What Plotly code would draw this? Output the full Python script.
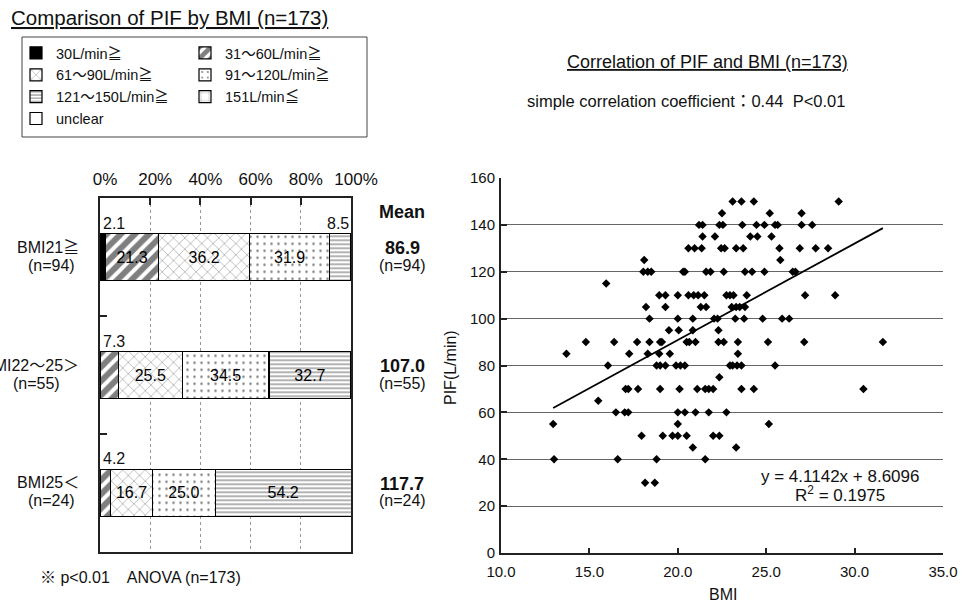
import plotly.graph_objects as go

W, H = 965, 602


def px(x):
    return x / W


def py(y):
    return 1 - y / H


FONT = "Liberation Sans, Arial, Noto Sans CJK JP, sans-serif"

# ---------------- left chart data ----------------
bmi_groups = ["BMI21≧", "BMI22～25＞", "BMI25＜"]
group_n = [94, 55, 24]
mean_pif = [86.9, 107.0, 117.7]

pif_classes = ["30L/min≧", "31～60L/min≧", "61～90L/min≧", "91～120L/min≧",
               "121～150L/min≧", "151L/min≦", "unclear"]
pct_30 = [2.1, 0.0, 0.0]
pct_31_60 = [21.3, 7.3, 4.2]
pct_61_90 = [36.2, 25.5, 16.7]
pct_91_120 = [31.9, 34.5, 25.0]
pct_121_150 = [8.5, 32.7, 54.2]
pct_151 = [0.0, 0.0, 0.0]
pct_unclear = [0.0, 0.0, 0.0]
pct_series = [pct_30, pct_31_60, pct_61_90, pct_91_120, pct_121_150, pct_151, pct_unclear]

pct_ticks = [0, 20, 40, 60, 80, 100]
pct_ticktext = ["0%", "20%", "40%", "60%", "80%", "100%"]

# ---------------- right chart data ----------------
bmi_values = [
    23.1, 23.6, 24.3, 29.1,
    22.5, 25.2, 27.0,
    21.2, 21.4, 22.35, 22.55, 23.65, 24.45, 24.9, 25.5, 25.65, 27.0, 27.6,
    21.4, 22.1, 24.1, 24.5, 25.3,
    20.6, 20.95, 21.35, 22.45, 22.65, 23.3, 23.7, 25.75, 26.9, 27.8, 28.5,
    18.1, 25.8,
    18.05, 18.3, 18.5, 20.3, 20.4, 21.6, 21.85, 22.6, 23.8, 24.2, 24.9, 26.5, 26.65,
    15.95,
    18.95, 19.3, 20.0, 20.6, 20.9, 21.15, 21.5, 22.75, 22.95, 23.15, 23.9, 27.2, 28.9,
    18.2, 19.3, 21.3, 21.6, 23.05, 23.3, 23.5, 23.8,
    18.4, 20.0, 20.85, 22.05, 22.25, 23.25, 23.75, 24.8, 25.9, 26.3,
    19.5, 20.05, 20.85, 22.3,
    14.8, 16.4, 17.7, 18.4, 19.0, 19.1, 20.5, 20.65, 21.0, 22.3, 22.6, 23.4, 25.1, 27.15, 31.6,
    13.7, 17.25, 18.3, 18.95, 19.55, 23.4,
    16.05, 18.8, 19.0, 19.3, 19.9, 20.15, 20.4, 22.95, 23.1, 23.35, 23.6, 25.5,
    22.35,
    17.05, 17.2, 17.75, 19.0, 20.1, 21.1, 21.55, 21.75, 22.0, 23.6, 24.3, 30.5,
    15.5,
    16.5, 17.0, 17.2, 20.0, 20.4, 21.0, 21.75, 22.75,
    12.95, 20.0, 25.15,
    17.95, 19.15, 19.7, 20.0, 20.5, 22.0, 22.35,
    20.85, 23.3,
    13.0, 16.6, 18.8, 21.55,
    18.15, 18.7,
]
pif_values = (
    [150] * 4 + [145] * 3 + [140] * 11 + [135] * 5 + [130] * 11 + [125] * 2
    + [120] * 13 + [115] * 1 + [110] * 13 + [105] * 8 + [100] * 10 + [95] * 4
    + [90] * 15 + [85] * 6 + [80] * 12 + [75] * 1 + [70] * 12 + [65] * 1
    + [60] * 8 + [55] * 3 + [50] * 7 + [45] * 2 + [40] * 4 + [30] * 2
)
slope, intercept, r_squared = 4.1142, 8.6096, 0.1975
corr_coef = 0.44

# ---------------- styles ----------------
class_styles = [
    dict(color="black", pattern=None),
    dict(color="white", pattern=dict(shape="/", fgcolor="black", bgcolor="white",
                                     size=10, solidity=0.6, fillmode="overlay")),
    dict(color="white", pattern=dict(shape="x", fgcolor="black", bgcolor="white",
                                     size=8, solidity=0.12, fillmode="overlay")),
    dict(color="white", pattern=dict(shape=".", fgcolor="black", bgcolor="white",
                                     size=7, solidity=0.1, fillmode="overlay")),
    dict(color="white", pattern=dict(shape="-", fgcolor="black", bgcolor="white",
                                     size=4, solidity=0.3, fillmode="overlay")),
    dict(color="white", pattern=dict(shape="+", fgcolor="black", bgcolor="white",
                                     size=12, solidity=0.08, fillmode="overlay")),
    dict(color="white", pattern=None),
]
legend_cols = ["legend", "legend2", "legend", "legend2", "legend", "legend2", "legend"]

fig = go.Figure()

for cls, vals, st, lg in zip(pif_classes, pct_series, class_styles, legend_cols):
    marker = dict(color=st["color"], line=dict(color="black", width=1.2))
    if st["pattern"] is not None:
        marker["pattern"] = st["pattern"]
    fig.add_trace(go.Bar(
        x=vals, y=bmi_groups, orientation="h", name=cls, marker=marker,
        width=0.4, xaxis="x", yaxis="y", legend=lg,
        text=[f"{v:.1f}" if v >= 10 else "" for v in vals],
        textposition="inside", insidetextanchor="middle", textangle=0,
        textfont=dict(size=16, color="black", family=FONT),
        hoverinfo="skip",
    ))

# scatter
fig.add_trace(go.Scatter(
    x=bmi_values, y=pif_values, mode="markers", xaxis="x2", yaxis="y2",
    marker=dict(symbol="diamond", size=6.5, color="black"), showlegend=False,
))
x_lo, x_hi = min(bmi_values), max(bmi_values)
fig.add_trace(go.Scatter(
    x=[x_lo, x_hi], y=[slope * x_lo + intercept, slope * x_hi + intercept],
    mode="lines", xaxis="x2", yaxis="y2", line=dict(color="black", width=1.8),
    showlegend=False,
))

annotations = []
# small segment labels above bars
for gi, grp in enumerate(bmi_groups):
    start = 0.0
    for vals in pct_series:
        v = vals[gi]
        if 0 < v < 10:
            if start + v >= 99.9:
                annotations.append(dict(x=start + v, y=grp, xref="x", yref="y", text=f"{v:.1f}",
                                        xanchor="right", yanchor="middle", yshift=34,
                                        showarrow=False, font=dict(size=16)))
            else:
                annotations.append(dict(x=start, y=grp, xref="x", yref="y", text=f"{v:.1f}",
                                        xanchor="left", yanchor="middle", yshift=34,
                                        xshift=1, showarrow=False, font=dict(size=16)))
        start += v

# group labels left and means right
line2_right = [77, 62, 77]
for gi, grp in enumerate(bmi_groups):
    annotations.append(dict(x=px(81), y=grp, xref="paper", yref="y", text=grp,
                            xanchor="right", yanchor="middle", yshift=10,
                            showarrow=False, font=dict(size=16)))
    annotations.append(dict(x=px(line2_right[gi]), y=grp, xref="paper", yref="y",
                            text=f"(n={group_n[gi]})", xanchor="right", yanchor="middle",
                            yshift=-8, showarrow=False, font=dict(size=16)))
    annotations.append(dict(x=px(402), y=grp, xref="paper", yref="y",
                            text=f"<b>{mean_pif[gi]:.1f}</b>", xanchor="center",
                            yanchor="middle", yshift=9, showarrow=False, font=dict(size=18)))
    annotations.append(dict(x=px(402), y=grp, xref="paper", yref="y",
                            text=f"(n={group_n[gi]})", xanchor="center",
                            yanchor="middle", yshift=-8, showarrow=False, font=dict(size=16)))

annotations += [
    dict(x=px(402), y=py(212), xref="paper", yref="paper", text="<b>Mean</b>",
         xanchor="center", yanchor="middle", showarrow=False, font=dict(size=18)),
    dict(x=px(9), y=py(18), xref="paper", yref="paper",
         text="<u>Comparison of PIF by BMI (n=173)</u>", xanchor="left", yanchor="middle",
         showarrow=False, font=dict(size=20.5)),
    dict(x=px(38), y=py(577), xref="paper", yref="paper",
         text="※ p&lt;0.01    ANOVA (n=173)", xanchor="left", yanchor="middle",
         showarrow=False, font=dict(size=16)),
    dict(x=px(707), y=py(62), xref="paper", yref="paper",
         text="<u>Correlation of PIF and BMI (n=173)</u>", xanchor="center",
         yanchor="middle", showarrow=False, font=dict(size=18)),
    dict(x=px(525), y=py(101), xref="paper", yref="paper",
         text=f"simple correlation coefficient：{corr_coef:.2f}  P&lt;0.01", xanchor="left",
         yanchor="middle", showarrow=False, font=dict(size=16.5)),
    dict(x=px(450), y=py(368), xref="paper", yref="paper", text="PIF(L/min)",
         textangle=-90, xanchor="center", yanchor="middle", showarrow=False,
         font=dict(size=16)),
    dict(x=px(723), y=py(594), xref="paper", yref="paper", text="BMI",
         xanchor="center", yanchor="middle", showarrow=False, font=dict(size=16)),
    dict(x=px(840), y=py(476), xref="paper", yref="paper",
         text=f"y = {slope:.4f}x + {intercept:.4f}", xanchor="center", yanchor="middle",
         showarrow=False, font=dict(size=17)),
    dict(x=px(840), y=py(494), xref="paper", yref="paper",
         text=f"R<sup>2</sup> = {r_squared:.4f}", xanchor="center", yanchor="middle",
         showarrow=False, font=dict(size=17)),
]

shapes = [
    dict(type="rect", xref="paper", yref="paper", x0=px(22), x1=px(367), y0=py(37), y1=py(137),
         line=dict(color="#444", width=1), fillcolor="rgba(0,0,0,0)"),
]

fig.update_layout(
    width=W, height=H, margin=dict(l=0, r=0, t=0, b=0, autoexpand=False),
    paper_bgcolor="white", plot_bgcolor="white",
    font=dict(family=FONT, size=16, color="#111"),
    barmode="stack", bargap=0.6,
    xaxis=dict(domain=[px(100), px(351)], range=[0, 100], side="top", anchor="y",
               tickvals=pct_ticks, ticktext=pct_ticktext, ticks="inside", ticklen=7,
               tickwidth=2, tickcolor="#222", showline=True, linecolor="#222", linewidth=2,
               mirror=True, showgrid=True, gridcolor="#999", griddash="dot", gridwidth=1,
               zeroline=False, tickfont=dict(size=17), ticklabelshift=5,
               ticklabelstandoff=5, automargin=False, fixedrange=True),
    yaxis=dict(domain=[py(551.7), py(198.3)], anchor="x", type="category",
               categoryorder="array", categoryarray=bmi_groups, autorange="reversed",
               tickson="boundaries", ticks="inside", ticklen=7, tickwidth=2, tickcolor="#222",
               showticklabels=False, showline=True, linecolor="#222", linewidth=2,
               mirror=True, showgrid=False, zeroline=False, automargin=False, fixedrange=True),
    xaxis2=dict(domain=[px(501), px(943)], range=[10, 35], dtick=5, tickformat=".1f",
                anchor="y2", ticks="inside", ticklen=5, tickwidth=2, tickcolor="#222",
                showline=True, linecolor="#222", linewidth=2, showgrid=False, zeroline=False,
                tickfont=dict(size=15), ticklabelstandoff=4, automargin=False,
                fixedrange=True),
    yaxis2=dict(domain=[py(553), py(178)], range=[0, 160], dtick=20, anchor="x2",
                ticks="inside", ticklen=6, tickwidth=2, tickcolor="#222", showline=True,
                linecolor="#222", linewidth=2, showgrid=True, gridcolor="#666", gridwidth=1,
                zeroline=False, tickfont=dict(size=15), ticklabelstandoff=1, automargin=False,
                fixedrange=True),
    legend=dict(x=px(16), y=py(37), xanchor="left", yanchor="top", bgcolor="rgba(0,0,0,0)",
                font=dict(size=14.5), traceorder="normal", itemclick=False),
    legend2=dict(x=px(185), y=py(37), xanchor="left", yanchor="top", bgcolor="rgba(0,0,0,0)",
                 font=dict(size=14.5), traceorder="normal", itemclick=False),
    annotations=annotations,
    shapes=shapes,
    showlegend=True,
)

fig.write_html("out.html")
